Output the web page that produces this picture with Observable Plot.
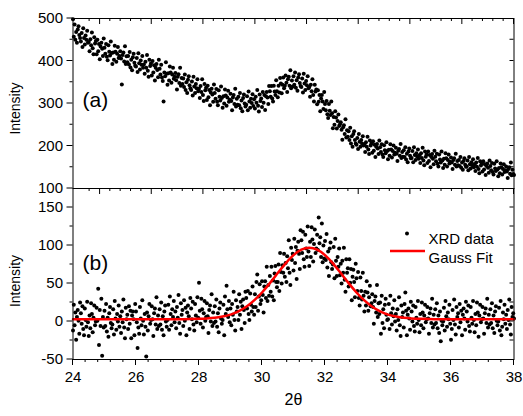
<!DOCTYPE html>
<html><head><meta charset="utf-8">
<script src="https://cdn.jsdelivr.net/npm/d3@7"></script>
<script src="https://cdn.jsdelivr.net/npm/@observablehq/plot@0.6"></script>
<style>
body{margin:0;background:#fff;}
#chart{position:relative;width:523px;height:416px;background:#fff;}
#chart svg{position:absolute;left:0;}
</style></head><body><div id="chart"></div>
<script>
// ---- data ----
const twoThetaStart = 24, twoThetaStep = 0.025;
// panel (a): measured intensity
const intensityRaw = [
498,457,486,450,468,443,474,482,461,454, 446,466,433,477,454,439,460,450,471,443,
445,423,451,437,467,430,416,456,441,447, 416,450,423,440,404,434,443,429,412,453,
431,417,440,410,402,437,422,413,446,419, 393,420,403,436,422,398,417,433,407,412,
423,406,345,414,420,399,435,393,411,397, 412,392,421,385,403,378,409,417,396,389,
387,407,374,418,395,380,401,391,412,384, 392,370,398,384,414,377,363,403,388,394,
366,400,373,390,354,384,393,379,362,403, 382,368,391,361,353,305,373,364,397,370,
344,371,354,387,373,349,368,384,358,363, 372,355,333,363,369,348,384,342,360,346,
359,339,368,332,350,325,356,364,343,336, 332,352,319,363,340,325,346,336,357,329,
335,313,341,327,357,320,306,346,331,337, 308,342,315,332,296,326,335,321,304,345,
325,311,334,304,296,331,316,307,340,313, 290,317,300,333,319,295,314,330,304,309,
323,306,284,314,320,299,335,293,311,297, 316,296,325,289,307,282,313,321,300,293,
297,317,284,328,305,290,311,301,322,294, 310,288,316,302,332,295,281,321,306,312,
292,327,302,320,285,317,327,314,299,341, 329,316,341,312,305,342,328,320,355,329,
315,342,326,360,347,324,344,361,336,342, 366,349,327,357,363,342,378,336,354,340,
364,344,373,337,355,330,361,369,348,341, 339,359,326,370,347,332,353,343,364,336,
339,316,344,329,357,320,305,344,328,333, 298,331,304,320,282,312,320,305,287,327,
299,284,306,275,266,299,283,273,305,277, 242,268,250,282,267,241,259,274,247,251,
256,238,215,244,249,228,263,220,237,222, 235,214,243,206,223,198,228,235,214,206,
203,219,193,228,210,198,214,206,223,201, 204,186,209,198,222,192,181,213,201,206,
184,211,189,203,174,198,205,194,181,213, 197,186,204,180,174,202,190,183,209,188,
169,191,177,204,192,173,188,201,180,184, 196,182,165,189,193,177,205,172,186,175,
190,174,197,168,182,162,187,194,177,171, 172,188,162,197,179,167,183,175,192,170,
178,160,183,172,196,166,155,187,175,180, 160,187,165,179,150,174,181,170,157,189,
175,164,182,158,152,180,168,161,187,166, 148,170,156,183,171,152,167,180,159,163,
173,161,146,167,171,156,182,152,165,155, 167,153,174,149,161,144,165,171,156,151,
152,166,143,174,157,147,162,155,169,150, 157,141,161,151,172,146,136,164,154,158,
140,164,145,157,132,153,159,149,137,166, 153,143,160,139,133,158,147,141,164,145,
129,148,136,159,150,133,146,157,139,143, 152,140,125,146,150,135,161,131,144,134,
132];
// panel (b): background-subtracted intensity
const intensityNet = [
-12,22,-5,12,-24,6,15,1,-16,25, 11,-3,20,-10,-18,17,2,-7,26,-1,
-19,8,-9,24,10,-14,5,21,-5,0, 18,1,43,-31,15,-6,30,-45,6,-8,
14,-6,23,-13,5,-20,11,19,-2,-9, -4,16,-17,27,4,-11,10,0,21,-7,
7,-15,13,-1,29,-8,-22,18,3,9, -10,20,-3,14,-22,8,13,3,-18,23,
13,-1,-35,-8,-16,19,4,-5,28,1, -17,10,-7,-46,12,-12,7,23,-3,2,
20,3,-19,11,17,-4,32,-10,8,-6, 16,-4,25,-11,7,-18,13,21,0,-7,
2,22,-11,33,10,-5,16,6,27,-1, 13,-9,19,5,35,-2,-16,24,9,15,
-6,28,1,18,-18,12,21,7,-10,31, 17,3,26,-4,-12,23,8,-1,32,5,
51,14,-3,30,16,-8,11,27,1,6, 24,7,-15,15,21,0,36,-6,12,-2,
20,0,29,-7,11,-14,17,25,4,-3, 2,22,-18,33,10,47,16,6,27,-1,
17,-5,23,9,39,2,-12,28,13,19, 2,36,9,26,-10,20,29,15,-2,39,
31,17,40,10,2,37,22,13,46,19, 9,36,19,52,62,14,33,49,23,28,
53,35,12,46,53,31,72,27,48,34, 60,39,72,33,54,28,63,73,52,45,
52,75,40,90,65,50,74,64,89,59, 77,52,86,70,107,64,48,97,81,89,
67,109,77,98,56,93,105,89,69,120, 107,90,118,82,72,114,96,85,125,92,
73,105,85,124,108,79,102,121,90,96, 114,94,137,103,111,85,129,78,100,83,
106,81,115,71,92,60,96,104,78,69, 75,98,57,109,80,60,85,72,96,61,
76,50,80,64,97,55,39,82,64,70, 46,82,51,69,28,59,68,52,32,76,
57,40,65,31,21,58,40,29,64,34, 13,39,21,53,38,14,32,47,20,24,
36,19,-3,27,33,12,48,6,24,10, 25,-16,34,-2,16,-9,22,30,9,2,
3,23,-10,34,11,-4,17,7,28,0, 10,-12,16,2,32,-5,-19,21,6,12,
-8,23,38,14,-18,9,17,4,-11,26, 13,0,21,-6,-13,19,5,-3,27,2,
-14,10,-5,25,12,-9,8,22,-1,3, 19,4,-16,11,17,-2,30,-8,9,-4,
16,-2,24,-9,8,-15,13,-26,1,-5, 0,18,-12,27,7,-7,12,3,22,-3,
-24,-10,15,2,29,-4,-17,19,6,11, -8,23,-1,14,-18,9,17,4,-11,26,
13,0,21,-6,-13,19,5,-3,27,2, -14,10,-5,25,12,-20,8,22,-1,3,
19,4,-16,11,17,-2,30,-8,9,-4, 16,-2,24,-9,8,-15,13,20,1,-5,
0,18,-12,27,-18,-7,12,3,22,-3, 9,-10,15,2,29,-4,-17,19,6,11,
4];
// Gauss fit curve
const fitTwoTheta = [24,25,26,27,27.5,28,28.25,28.5,28.75,29,29.25,29.5,29.75,30,30.25,30.5,30.75,31,31.25,31.5,31.75,32,32.25,32.5,32.75,33,33.25,33.5,33.75,34,34.25,34.5,34.75,35,35.5,36,37,38];
const fitIntensity = [3,3,3,3,3.1,3.5,3.9,4.8,6.5,9.1,13.3,19.4,27.7,38.2,50.5,63.7,76.5,87.3,94.5,97,94.5,87.3,76.5,63.7,50.5,38.2,27.7,19.4,13.3,9.1,6.5,4.8,3.9,3.5,3.1,3,3,3];

// ticks and labels
const xMajorTicks = [24,26,28,30,32,34,36,38];
const xMinorTicks = d3.range(0, 36).map(i => 24 + i * 0.4).filter(v => Math.abs(v - Math.round(v / 2) * 2) > 1e-6);
const topMajorTicks = [24.86,26.5,28.14,29.79,31.43,33.07,34.71,36.36,38];
const topMinorTicks = d3.range(1, 42).map(i => 38 - i * 0.3286).filter((v, j) => (j + 1) % 5 !== 0 && v > 24.05);
const yTicksA = [100,200,300,400,500];
const yMinorA = [150,250,350,450];
const yRightA = [150,200,250,300,350,400,450];
const yTicksB = [-50,0,50,100,150];
const yMinorB = [-25,25,75,125];
const yRightB = [-25,0,25,50,75,100,125,150];
const panelLabels = ["(a)", "(b)"];
const legendLabels = ["XRD data", "Gauss Fit"];
const xLabel = "2θ", yLabel = "Intensity";

const rawData = intensityRaw.map((v, i) => ({x: twoThetaStart + i * twoThetaStep, y: v}));
const netData = intensityNet.map((v, i) => ({x: twoThetaStart + i * twoThetaStep, y: v}));
const fitData = fitTwoTheta.map((x, i) => ({x, y: fitIntensity[i]}));

const FONT = "'Liberation Sans', Arial, Helvetica, sans-serif";

function tickMarks(spec) {
  return (index, scales, values, dims) => {
    const {x, y} = scales;
    const L = dims.marginLeft, R = dims.width - dims.marginRight;
    const T = dims.marginTop, B = dims.height - dims.marginBottom;
    const g = d3.create("svg:g").attr("stroke", "#000").attr("stroke-width", 1).attr("fill", "none");
    const line = (x1, y1, x2, y2) => g.append("line").attr("x1", x1).attr("y1", y1).attr("x2", x2).attr("y2", y2);
    for (const [vals, len] of spec.top || []) for (const v of vals) { const p = x(v); line(p, T, p, T + len); }
    for (const [vals, len] of spec.bottom || []) for (const v of vals) { const p = x(v); line(p, B, p, B + len); }
    for (const [vals, len] of spec.left || []) for (const v of vals) { const p = y(v); line(L, p, L - len, p); }
    for (const [vals, len] of spec.right || []) for (const v of vals) { const p = y(v); line(R, p, R - len, p); }
    return g.node();
  };
}

function legendLine(index, scales, values, dims) {
  const R = dims.width - dims.marginRight, T = dims.marginTop;
  const g = d3.create("svg:g");
  g.append("line").attr("x1", R - 123.5).attr("x2", R - 88.5).attr("y1", T + 63).attr("y2", T + 63)
    .attr("stroke", "#ff0000").attr("stroke-width", 2.5);
  return g.node();
}

const common = {
  width: 523, marginLeft: 72.5, marginRight: 9.5,
  style: {background: "transparent", overflow: "visible", fontFamily: FONT, fontSize: "15px", color: "#000"}
};

const topPlot = Plot.plot({
  ...common,
  height: 200, marginTop: 18, marginBottom: 12,
  x: {domain: [24, 38], axis: null},
  y: {domain: [100, 500]},
  marks: [
    Plot.dot(rawData, {x: "x", y: "y", r: 2, fill: "#000", stroke: "none"}),
    Plot.frame({stroke: "#000", strokeWidth: 1}),
    tickMarks({
      top: [[topMajorTicks, 6], [topMinorTicks, 3]],
      bottom: [[topMajorTicks, 6], [topMinorTicks, 3]],
      left: [[yTicksA, 6], [yMinorA, 3]],
      right: [[yRightA, 4]]
    }),
    Plot.axisY({ticks: yTicksA, tickSize: 0, tickPadding: 10, tickFormat: d => String(d), label: null, fontSize: 15}),
    Plot.text([yLabel], {text: d => d, frameAnchor: "left", rotate: -90, textAnchor: "middle", dx: -57, dy: 5, fontSize: 14}),
    Plot.text([panelLabels[0]], {text: d => d, frameAnchor: "left", textAnchor: "start", dx: 9.5, dy: -3, fontSize: 21})
  ]
});

const bottomPlot = Plot.plot({
  ...common,
  height: 228, marginTop: 0, marginBottom: 57,
  x: {domain: [24, 38]},
  y: {domain: [-50, 175]},
  marks: [
    Plot.dot(netData, {x: "x", y: "y", r: 2, fill: "#000", stroke: "none"}),
    Plot.line(fitData, {x: "x", y: "y", stroke: "#ff0000", strokeWidth: 2.5, curve: "natural"}),
    Plot.frame({stroke: "#000", strokeWidth: 1}),
    tickMarks({
      bottom: [[xMajorTicks, 6], [xMinorTicks, 3]],
      left: [[yTicksB, 6], [yMinorB, 3]],
      right: [[yRightB, 4]]
    }),
    Plot.axisX({ticks: xMajorTicks, tickSize: 0, tickPadding: 12, tickFormat: d => String(d), label: null, fontSize: 15}),
    Plot.axisY({ticks: yTicksB, tickSize: 0, tickPadding: 10, tickFormat: d => String(d), label: null, fontSize: 15}),
    Plot.text([yLabel], {text: d => d, frameAnchor: "left", rotate: -90, textAnchor: "middle", dx: -57, dy: 7, fontSize: 14}),
    Plot.text([xLabel], {text: d => d, frameAnchor: "bottom", dy: 45, fontSize: 16}),
    Plot.text([panelLabels[1]], {text: d => d, frameAnchor: "left", textAnchor: "start", dx: 9.5, dy: -11, fontSize: 21}),
    Plot.dot([0], {frameAnchor: "top-right", dx: -107, dy: 45, r: 2, fill: "#000", stroke: "none"}),
    Plot.text([legendLabels[0]], {text: d => d, frameAnchor: "top-right", textAnchor: "start", dx: -85.5, dy: 45, fontSize: 15}),
    legendLine,
    Plot.text([legendLabels[1]], {text: d => d, frameAnchor: "top-right", textAnchor: "start", dx: -85.5, dy: 64, fontSize: 15})
  ]
});

const chart = document.getElementById("chart");
topPlot.style.top = "0px";
bottomPlot.style.top = "188px";
chart.appendChild(topPlot);
chart.appendChild(bottomPlot);
</script>
</body></html>
